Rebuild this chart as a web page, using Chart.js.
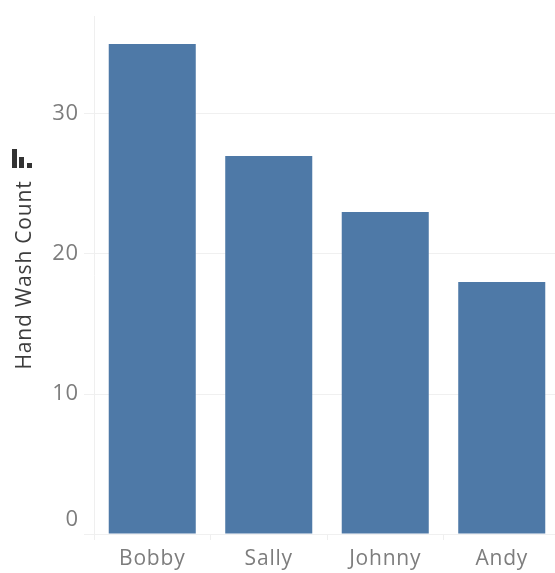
<!doctype html>
<html lang="en">
<head>
  <meta charset="utf-8">
  <title>Hand Wash Count</title>
  <style>
    * { margin: 0; padding: 0; }
    html, body { background: white; overflow: hidden; }
    /* the last band runs a little past the window, so the canvas is wider than the page */
    .chartBox { width: 555px; height: 573px; overflow: hidden; }
  </style>
</head>
<body>
<div class="chartBox">
  <canvas id="myChart" width="560" height="573"></canvas>
</div>

<script src="https://cdn.jsdelivr.net/npm/chart.js"></script>
<script>
  const names = ['Bobby', 'Sally', 'Johnny', 'Andy'];
  const handWashCount = [35, 27, 23, 18];
  const yMax = 37;
  const yStep = 10;

  // little sort icon above the axis title, plus the wide tracking of the labels
  const sortIcon = {
    id: 'sortIcon',
    beforeDraw(chart) {
      chart.ctx.letterSpacing = '0.8px';
    },
    afterDraw(chart) {
      const ctx = chart.ctx;
      ctx.save();
      ctx.fillStyle = '#333333';
      ctx.fillRect(12, 149, 5, 19);
      ctx.fillRect(19, 157, 5, 11);
      ctx.fillRect(27, 163, 5, 5);
      ctx.restore();
    }
  };

  new Chart(document.getElementById('myChart'), {
    type: 'bar',
    data: {
      labels: names,
      datasets: [{
        label: 'Hand Wash Count',
        data: handWashCount,
        backgroundColor: '#4e79a7',
        barPercentage: 1,
        categoryPercentage: 0.747
      }]
    },
    plugins: [sortIcon],
    options: {
      responsive: false,
      animation: false,
      layout: { padding: { top: 16, right: 0, bottom: 0, left: 0 } },
      plugins: { legend: { display: false }, tooltip: { enabled: false } },
      scales: {
        x: {
          afterFit: (scale) => { scale.height = 39; },
          grid: {
            offset: true,
            drawOnChartArea: false,
            color: '#efefef',
            tickLength: 6
          },
          border: { display: false },
          ticks: {
            color: '#7d7d7d',
            padding: 6,
            maxRotation: 0,
            font: { family: 'Open Sans', size: 21 }
          }
        },
        y: {
          min: 0,
          max: yMax,
          afterFit: (scale) => {
            scale.width = 94;
            scale.paddingTop = 0;
            scale.paddingBottom = 0;
          },
          grid: {
            color: '#f0f0f0',
            tickLength: 10
          },
          border: { color: '#efefef' },
          title: {
            display: true,
            text: 'Hand Wash Count',
            color: '#3c3c3c',
            padding: { top: 12, bottom: 0 },
            font: { family: 'Open Sans', size: 21 }
          },
          ticks: {
            stepSize: yStep,
            includeBounds: false,
            color: '#7d7d7d',
            padding: 5,
            // the 0 label sits above its gridline
            font: (context) => ({
              family: 'Open Sans',
              size: 22,
              lineHeight: context.tick && context.tick.value === 0 ? 1.3 : 1.2
            }),
            callback: (value) => value === 0 ? ['0', ''] : String(value)
          }
        }
      }
    }
  });
</script>
</body>
</html>
